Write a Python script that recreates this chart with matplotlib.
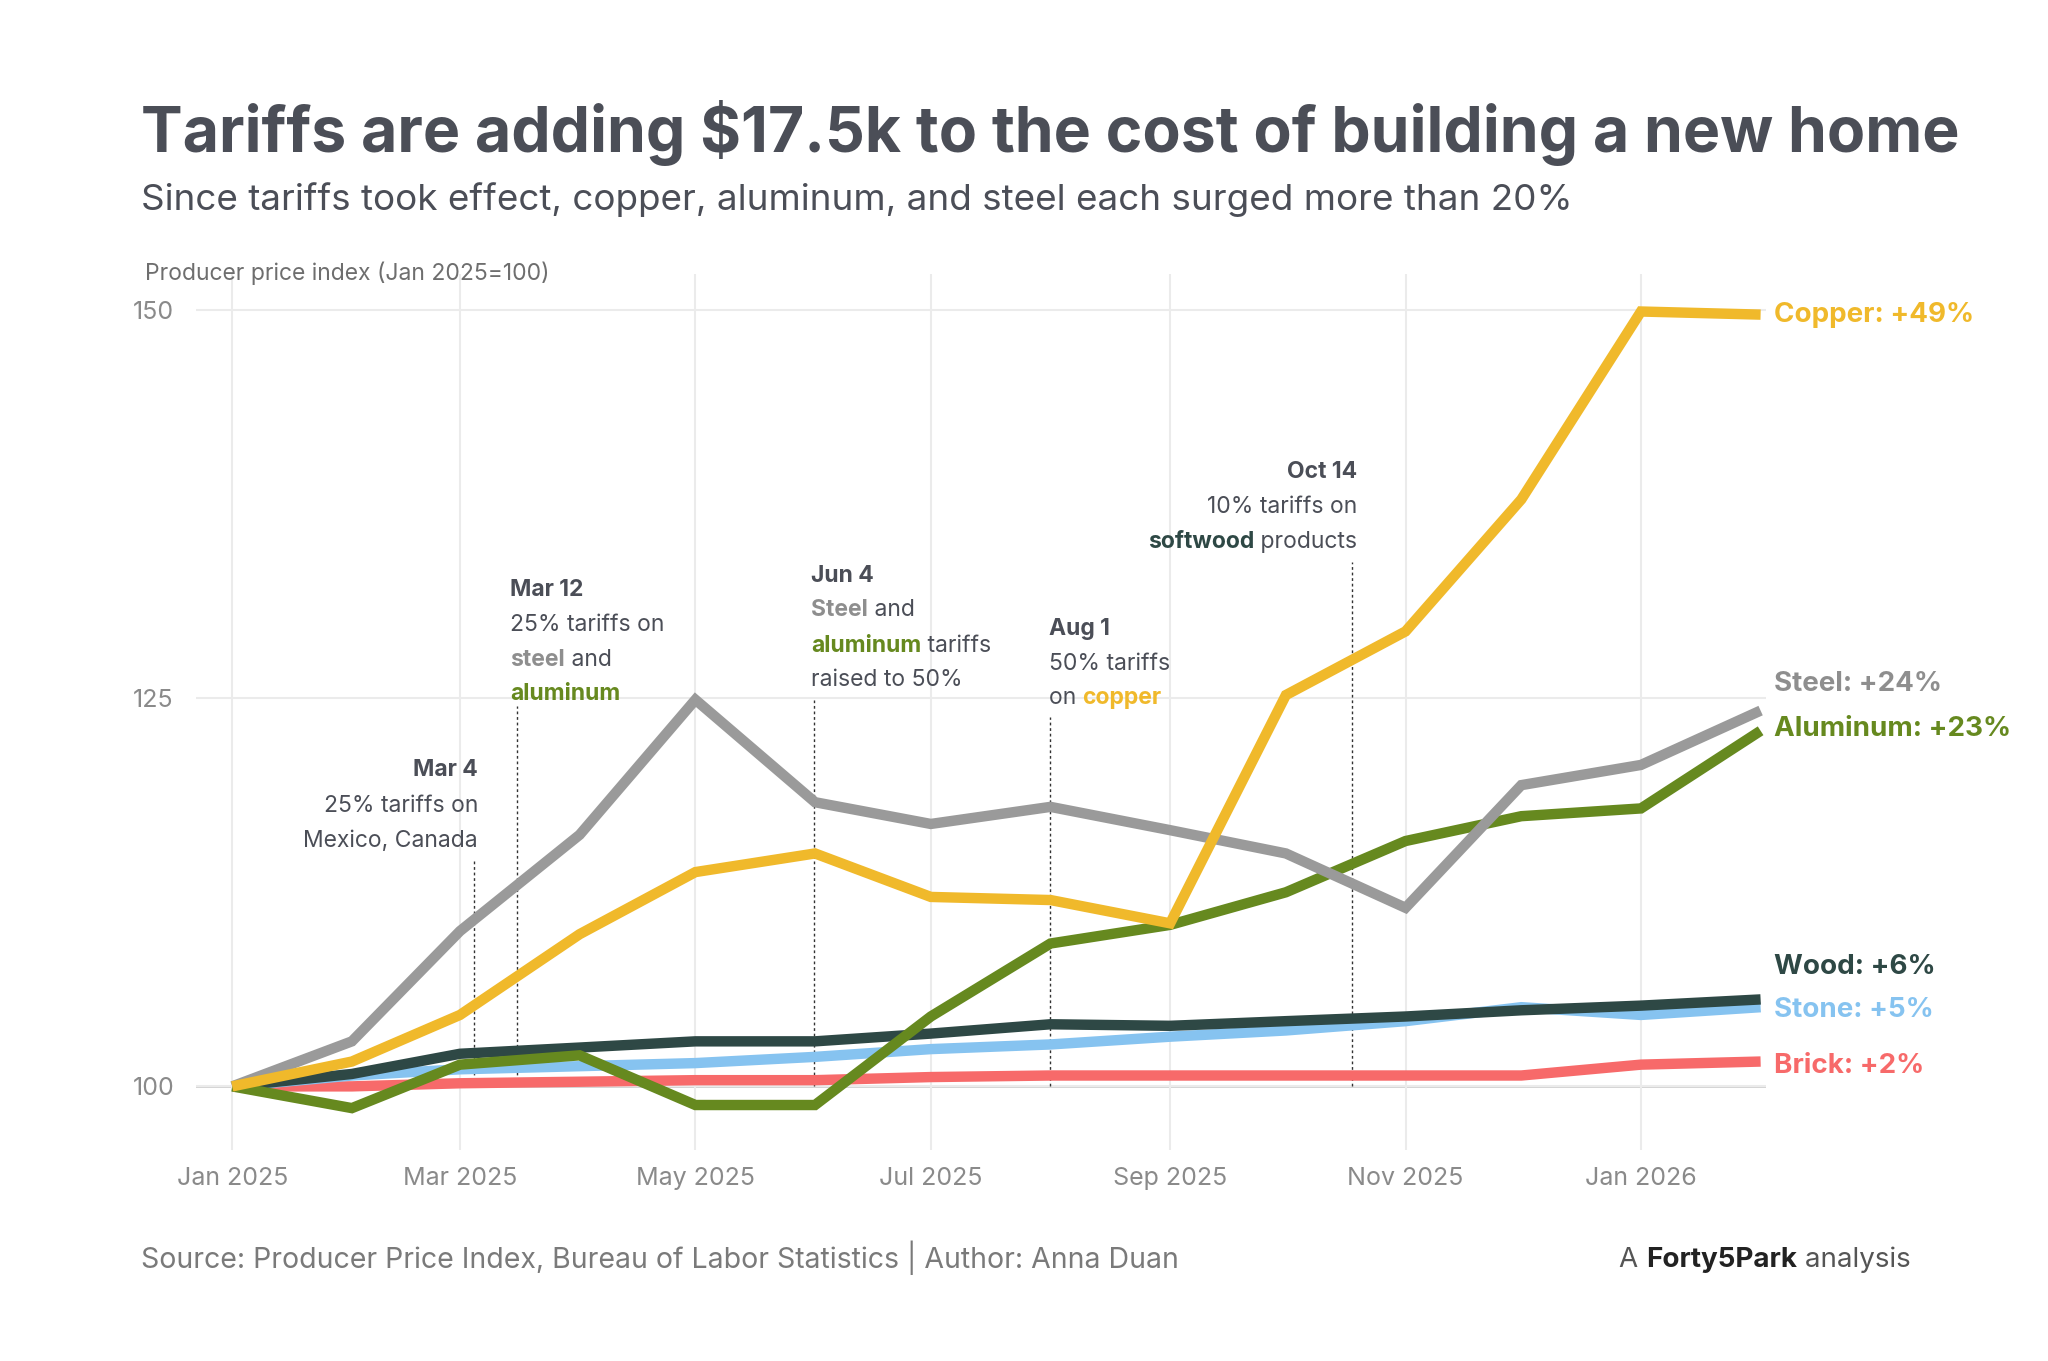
import matplotlib
matplotlib.use("Agg")
import matplotlib.pyplot as plt
import datetime as dt

plt.rcParams['font.family'] = ['Inter', 'DejaVu Sans']

months = [dt.date(2025, m, 1) for m in range(1, 13)] + [dt.date(2026, 1, 1), dt.date(2026, 2, 1)]
copper = [100, 101.6, 104.6, 109.8, 113.8, 115.0, 112.2, 112.0, 110.5, 125.2, 129.3, 137.8, 149.9, 149.7]
steel = [100, 102.9, 110.0, 116.2, 124.9, 118.3, 116.9, 118.0, 116.5, 115.0, 111.5, 119.4, 120.7, 124.2]
aluminum = [100, 98.6, 101.4, 102.0, 98.8, 98.8, 104.5, 109.2, 110.4, 112.5, 115.8, 117.4, 117.9, 122.9]
wood = [100, 100.8, 102.1, 102.5, 102.9, 102.9, 103.4, 104.0, 103.9, 104.2, 104.5, 104.9, 105.2, 105.6]
stone = [100, 100.7, 101.1, 101.3, 101.5, 101.9, 102.4, 102.7, 103.2, 103.6, 104.2, 105.1, 104.6, 105.1]
brick = [100, 100.0, 100.2, 100.3, 100.4, 100.4, 100.6, 100.7, 100.7, 100.7, 100.7, 100.7, 101.4, 101.6]
tick_labels = ["Jan 2025", "Mar 2025", "May 2025", "Jul 2025", "Sep 2025", "Nov 2025", "Jan 2026"]

C_COP, C_STE, C_ALU, C_WOO, C_STO, C_BRI = "#F0B92B", "#9A9A9A", "#66891F", "#2E4845", "#86C3F0", "#F76A6A"
TXT = "#4B4E57"
base = dt.date(2025, 1, 1)
def d(date):
    return (date - base).days
x = [d(m) for m in months]

fig = plt.figure(figsize=(20.48, 13.61), dpi=100)
ax = fig.add_axes([0.0955, 0.155, 0.767, 0.6435])
ax.set_xlim(-9.5, 397.5)
ax.set_ylim(95.9, 152.3)

for s, c in [(brick, C_BRI), (stone, C_STO), (wood, C_WOO), (aluminum, C_ALU), (steel, C_STE), (copper, C_COP)]:
    ax.plot(x, s, color=c, lw=7.5, solid_capstyle='butt', solid_joinstyle='miter', zorder=3)

ax.set_yticks([100, 125, 150])
tick_dates = [dt.date(2025, m, 1) for m in (1, 3, 5, 7, 9, 11)] + [dt.date(2026, 1, 1)]
ax.set_xticks([d(t) for t in tick_dates])
ax.set_xticklabels(tick_labels)
ax.grid(True, color="#EBEBEB", lw=1.5, zorder=0)
ax.axhline(100, color="#D0D0D0", lw=2, zorder=1)
for sp in ax.spines.values():
    sp.set_visible(False)
ax.tick_params(length=0, labelsize=18, labelcolor="#8A8A8A", pad=12)
ax.tick_params(axis='y', pad=45)
for lab in ax.get_yticklabels():
    lab.set_horizontalalignment('left')

events = [(62.6, 114.6), (73.8, 124.5), (150.7, 124.9), (212, 123.8), (290, 133.8)]
for ex, top in events:
    ax.plot([ex, ex], [100, top], color="#333333", lw=1, ls=(0, (2, 2)), zorder=2)

FS = 16.5
def rich(xp, yp, parts, ha='left', fs=FS, axes=True):
    prev = None
    seq = parts if ha == 'left' else list(reversed(parts))
    for t, c, w in seq:
        if prev is None:
            if axes:
                prev = ax.text(xp, yp, t, color=c, fontweight=w, fontsize=fs, ha=ha, va='baseline', zorder=5)
            else:
                prev = fig.text(xp, yp, t, color=c, fontweight=w, fontsize=fs, ha=ha, va='baseline')
        else:
            anchor = (1, 0) if ha == 'left' else (0, 0)
            prev = ax.annotate(t, xy=anchor, xycoords=prev, color=c, fontweight=w, fontsize=fs,
                               ha=ha, va='bottom', zorder=5, annotation_clip=False)

N, B = 'normal', 'bold'
rich(63.7, 120.0, [("Mar 4", TXT, B)], 'right')
rich(63.7, 117.7, [("25% tariffs on", TXT, N)], 'right')
rich(63.7, 115.4, [("Mexico, Canada", TXT, N)], 'right')

rich(72, 131.6, [("Mar 12", TXT, B)])
rich(72, 129.3, [("25% tariffs on", TXT, N)])
rich(72, 127.1, [("steel", "#8E8E8E", B), (" and", TXT, N)])
rich(72, 124.9, [("aluminum", C_ALU, B)])

rich(150, 132.5, [("Jun 4", TXT, B)])
rich(150, 130.3, [("Steel", "#8E8E8E", B), (" and", TXT, N)])
rich(150, 128.0, [("aluminum", C_ALU, B), (" tariffs", TXT, N)])
rich(150, 125.8, [("raised to 50%", TXT, N)])

rich(211.5, 129.1, [("Aug 1", TXT, B)])
rich(211.5, 126.8, [("50% tariffs", TXT, N)])
rich(211.5, 124.6, [("on ", TXT, N), ("copper", C_COP, B)])

rich(291.5, 139.2, [("Oct 14", TXT, B)], 'right')
rich(291.5, 136.9, [("10% tariffs on", TXT, N)], 'right')
rich(291.5, 134.7, [("softwood", C_WOO, B), (" products", TXT, N)], 'right')

end_labels = [("Copper: +49%", C_COP, 149.7), ("Steel: +24%", "#8E8E8E", 125.9),
              ("Aluminum: +23%", C_ALU, 123.0), ("Wood: +6%", C_WOO, 107.7),
              ("Stone: +5%", C_STO, 104.9), ("Brick: +2%", C_BRI, 101.3)]
for t, c, yv in end_labels:
    ax.text(399.5, yv, t, color=c, fontsize=20, fontweight='bold', va='center', ha='left', clip_on=False)

fig.text(0.069, 0.902, "Tariffs are adding $17.5k to the cost of building a new home",
         fontsize=45, fontweight='bold', color=TXT, va='center')
fig.text(0.069, 0.853, "Since tariffs took effect, copper, aluminum, and steel each surged more than 20%",
         fontsize=26.5, color=TXT, va='center')
fig.text(0.071, 0.799, "Producer price index (Jan 2025=100)", fontsize=16.5, color="#6E6E6E", va='center')
fig.text(0.069, 0.076, "Source: Producer Price Index, Bureau of Labor Statistics | Author: Anna Duan",
         fontsize=20.5, color="#7A7A7A", va='center')
rich(0.933, 0.069, [("A ", "#555555", N), ("Forty5Park", "#222222", B), (" analysis", "#555555", N)],
     'right', fs=20, axes=False)

fig.savefig("out.png", dpi=100, facecolor="white")
